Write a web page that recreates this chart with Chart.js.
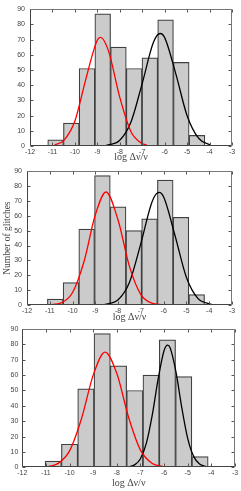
<!DOCTYPE html>
<html><head><meta charset="utf-8">
<script src="https://cdn.jsdelivr.net/npm/chart.js@4"></script>
<style>
html,body{margin:0;padding:0;background:#fff;width:241px;height:491px;overflow:hidden}
canvas{position:absolute;left:0}
</style></head>
<body>
<canvas id="c1"></canvas><canvas id="c2"></canvas><canvas id="c3"></canvas>
<script>
// ---- data ----
const xTicks = [-12,-11,-10,-9,-8,-7,-6,-5,-4,-3];
const yTicks = [0,10,20,30,40,50,60,70,80,90];
const xTitle = 'log Δν/ν';
const yTitle = 'Number of glitches';

const bins1 = [-10.86,-10.16,-9.46,-8.76,-8.06,-7.36,-6.66,-5.96,-5.26,-4.56];
const counts1 = [4,15,51,87,65,51,58,83,55,7];
const red1X = [-10.9,-10.5,-10.0,-9.5,-9.0,-8.85,-8.5,-8.0,-7.5,-7.0,-6.8];
const red1Y = [0.7,3.5,16.4,44.7,69.7,71.5,62.4,32,9.4,1.6,0.7];
const blk1X = [-8.6,-8.0,-7.5,-7.0,-6.5,-6.2,-6.0,-5.5,-5.0,-4.5,-4.0,-3.95];
const blk1Y = [0.4,3.8,15.8,41.2,68.2,74,71.3,47.3,19.9,5.3,0.9,0.7];

const bins2 = [-10.76,-10.07,-9.38,-8.69,-8.00,-7.31,-6.62,-5.93,-5.24,-4.55];
const counts2 = [4,15,51,87,66,50,58,84,59,7];
const red2X = [-11.0,-10.5,-10.0,-9.5,-9.0,-8.53,-8.0,-7.5,-7.0,-6.5,-6.1];
const red2Y = [0.2,1.4,8.4,29.1,60.7,76,57,25.8,7,1.1,0.3];
const blk2X = [-8.6,-8.0,-7.5,-7.0,-6.5,-6.2,-6.0,-5.5,-5.0,-4.5,-3.9];
const blk2Y = [0.3,3.5,15.3,41.5,69.8,75.7,72.6,46.6,18.5,4.5,0.45];

const bins3 = [-10.69,-10.00,-9.31,-8.62,-7.93,-7.24,-6.55,-5.86,-5.17,-4.48];
const counts3 = [4,15,51,87,66,50,60,83,59,7];
const red3X = [-10.9,-10.5,-10.0,-9.5,-9.0,-8.5,-8.0,-7.5,-7.0,-6.5,-6.05];
const red3Y = [0.5,2.4,10.7,31.4,60,75,61,32.4,11.2,2.5,0.5];
const blk3X = [-7.5,-7.25,-7.0,-6.75,-6.5,-6.25,-6.0,-5.85,-5.75,-5.5,-5.25,-5.0,-4.75,-4.5,-4.2];
const blk3Y = [0.35,1.6,5.6,15.7,34.1,57.7,76,79.5,77.9,62.2,38.7,18.7,7.1,2.1,0.35];

// ---- drawing ----
const framePlugin = {
  id:'frame',
  afterDatasetsDraw(chart){
    const {ctx, chartArea:a, scales:{x,y}} = chart;
    ctx.save();
    ctx.lineWidth = 1;
    ctx.strokeStyle = '#555';
    const L = Math.round(a.left)+0.5, R = Math.round(a.right)-0.5, T = Math.round(a.top)+0.5, B = Math.round(a.bottom)-0.5;
    ctx.beginPath();
    xTicks.forEach(v=>{ const p=Math.round(x.getPixelForValue(v))+0.5; ctx.moveTo(p,B); ctx.lineTo(p,B-3); ctx.moveTo(p,T); ctx.lineTo(p,T+3); });
    yTicks.forEach(v=>{ const p=Math.round(y.getPixelForValue(v))+0.5; ctx.moveTo(L,p); ctx.lineTo(L+3,p); ctx.moveTo(R,p); ctx.lineTo(R-3,p); });
    ctx.stroke();
    ctx.strokeStyle = '#777';
    ctx.beginPath(); ctx.moveTo(L,T); ctx.lineTo(R,T); ctx.lineTo(R,B); ctx.stroke();
    ctx.strokeStyle = '#444';
    ctx.beginPath(); ctx.moveTo(L,T); ctx.lineTo(L,B); ctx.lineTo(R,B); ctx.stroke();
    ctx.restore();
  }
};

function pts(xs, ys){ return xs.map((v,i)=>({x:v,y:ys[i]})); }

function makePanel(id, lay, bins, counts, rx, ry, bx, by, showY){
  const cv = document.getElementById(id);
  cv.style.top = lay.top+'px';
  cv.width = 241; cv.height = lay.h;
  cv.style.width='241px'; cv.style.height=lay.h+'px';
  new Chart(cv, {
    type:'bar',
    data:{datasets:[
      {type:'line', data:pts(rx,ry), borderColor:'#ff0000', borderWidth:1.3, pointRadius:0, tension:0.4, cubicInterpolationMode:'monotone', order:1},
      {type:'line', data:pts(bx,by), borderColor:'#000', borderWidth:1.3, pointRadius:0, tension:0.4, cubicInterpolationMode:'monotone', order:1},
      {type:'bar', data:pts(bins,counts), backgroundColor:'#cbcbcb', borderColor:'#404040', borderWidth:1.2, barPercentage:1, categoryPercentage:1, order:2}
    ]},
    options:{
      responsive:false, animation:false, devicePixelRatio:1,
      layout:{padding:{top:lay.pt, right:241-lay.right, left:0, bottom:0}},
      plugins:{legend:{display:false}, tooltip:{enabled:false}},
      scales:{
        x:{type:'linear', min:-12, max:-3, offset:false,
           afterBuildTicks(s){ s.ticks = xTicks.map(v=>({value:v})); },
           afterFit(s){ s.height = lay.h - lay.bottom; },
           grid:{display:false, drawTicks:false}, border:{display:false},
           ticks:{font:{family:'Liberation Sans', size:7}, color:'#444', padding:2, maxRotation:0, autoSkip:false},
           title:{display:true, text:xTitle, font:{family:'Liberation Serif', size:10, lineHeight:1}, color:'#444', padding:0}},
        y:{type:'linear', min:0, max:90,
           afterBuildTicks(s){ s.ticks = yTicks.map(v=>({value:v})); },
           afterFit(s){ s.width = lay.left; },
           grid:{display:false, drawTicks:false}, border:{display:false},
           ticks:{font:{family:'Liberation Sans', size:7}, color:'#444', padding:lay.yp},
           title:{display:showY, text:yTitle, font:{family:'Liberation Serif', size:9.5, lineHeight:1.2}, color:'#444', padding:{top:2,bottom:0}}}
      }
    },
    plugins:[framePlugin]
  });
}

makePanel('c1', {top:0, h:162, pt:7.5, bottom:146, left:30, right:232, yp:5}, bins1, counts1, red1X, red1Y, blk1X, blk1Y, false);
makePanel('c2', {top:162, h:160, pt:2.3, bottom:143, left:27, right:232, yp:5}, bins2, counts2, red2X, red2Y, blk2X, blk2Y, true);
makePanel('c3', {top:320, h:168, pt:9, bottom:147.3, left:22.3, right:235, yp:4}, bins3, counts3, red3X, red3Y, blk3X, blk3Y, false);
</script>
</body></html>
